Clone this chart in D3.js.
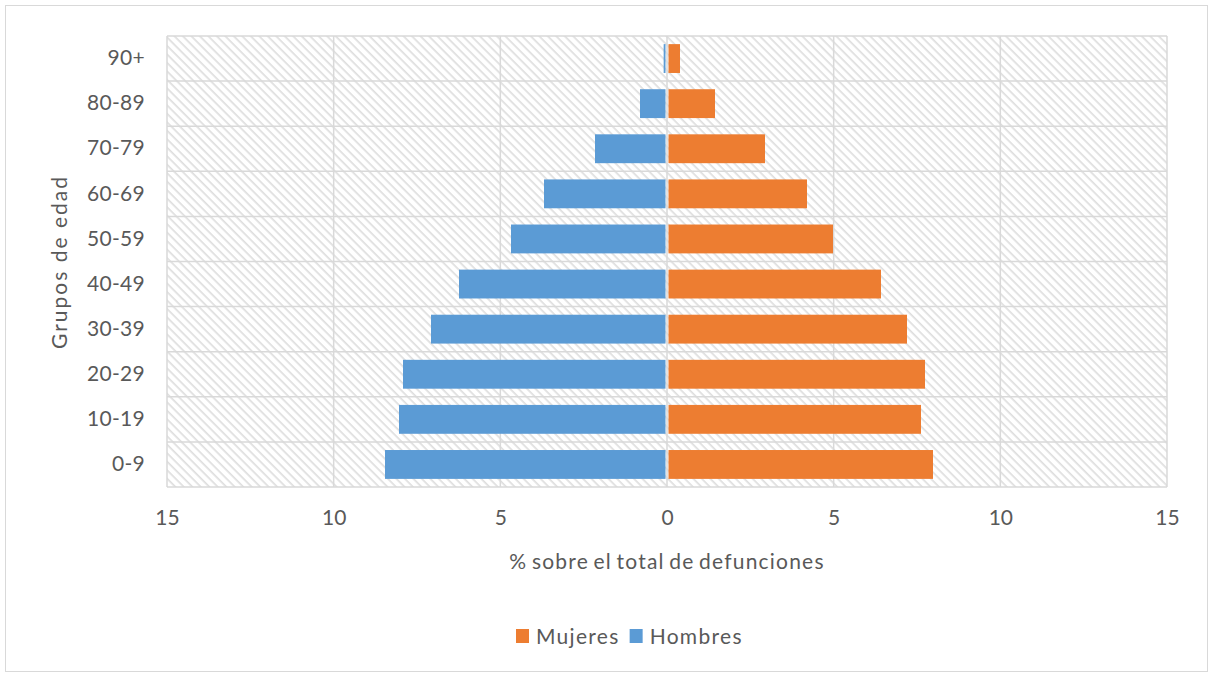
<!DOCTYPE html>
<html>
<head>
<meta charset="utf-8">
<script src="https://cdn.jsdelivr.net/npm/d3@7"></script>
<style>
  body { margin: 0; background: #fff; }
  svg text { font-family: Lato, Carlito, "Open Sans", sans-serif; fill: #595959; }
</style>
</head>
<body>
<div id="chart"></div>
<script>
const groups = ['0-9', '10-19', '20-29', '30-39', '40-49', '50-59', '60-69', '70-79', '80-89', '90+'];
const hombres = [8.46, 8.04, 7.92, 7.08, 6.24, 4.68, 3.69, 2.16, 0.81, 0.1];
const mujeres = [7.98, 7.62, 7.74, 7.2, 6.42, 4.98, 4.2, 2.94, 1.44, 0.39];
const xTicks = [-15, -10, -5, 0, 5, 10, 15];
const legendItems = [
  { label: 'Mujeres', color: '#ed7d31' },
  { label: 'Hombres', color: '#5b9bd5' },
];

const width = 1210;
const height = 677;
const margin = { top: 36, right: 43, bottom: 190, left: 167 };
const innerW = width - margin.left - margin.right;
const innerH = height - margin.top - margin.bottom;

const svg = d3
  .select('#chart')
  .append('svg')
  .attr('width', width)
  .attr('height', height);

// chart frame
svg
  .append('rect')
  .attr('x', 5.5)
  .attr('y', 5.5)
  .attr('width', 1202)
  .attr('height', 666)
  .attr('fill', '#fff')
  .attr('stroke', '#d9d9d9');

// diagonal hatch for the plot background
const defs = svg.append('defs');
const pat = defs
  .append('pattern')
  .attr('id', 'hatch')
  .attr('patternUnits', 'userSpaceOnUse')
  .attr('width', 6)
  .attr('height', 6)
  .attr('patternTransform', 'rotate(45)');
pat.append('rect').attr('width', 6).attr('height', 6).attr('fill', '#fff');
pat
  .append('line')
  .attr('x1', 0)
  .attr('y1', 0)
  .attr('x2', 6)
  .attr('y2', 0)
  .attr('stroke', '#dedede')
  .attr('stroke-width', 3.4);

const g = svg.append('g').attr('transform', `translate(${margin.left},${margin.top})`);

const x = d3.scaleLinear().domain([-15, 15]).range([0, innerW]);
const y = d3
  .scaleBand()
  .domain(groups.slice().reverse())
  .range([0, innerH])
  .paddingInner(0.36)
  .paddingOuter(0.18);

g.append('rect')
  .attr('width', innerW)
  .attr('height', innerH)
  .attr('fill', 'url(#hatch)');

// horizontal grid lines between categories
const rowEdges = d3.range(groups.length + 1).map((i) => i * (innerH / groups.length));
g.selectAll('.hgrid')
  .data(rowEdges)
  .enter()
  .append('line')
  .attr('x1', 0)
  .attr('x2', innerW)
  .attr('y1', (d) => d)
  .attr('y2', (d) => d)
  .attr('stroke', '#d9d9d9')
  .attr('stroke-width', 1.5);

// vertical grid lines
g.selectAll('.vgrid')
  .data(xTicks)
  .enter()
  .append('line')
  .attr('x1', (d) => x(d))
  .attr('x2', (d) => x(d))
  .attr('y1', 0)
  .attr('y2', innerH)
  .attr('stroke', '#d9d9d9')
  .attr('stroke-width', 1.5);

// bars
g.selectAll('.bar-h')
  .data(groups)
  .enter()
  .append('rect')
  .attr('x', (d, i) => x(-hombres[i]))
  .attr('y', (d) => y(d))
  .attr('width', (d, i) => x(0) - x(-hombres[i]) - 1.5)
  .attr('height', y.bandwidth())
  .attr('fill', '#5b9bd5');

g.selectAll('.bar-m')
  .data(groups)
  .enter()
  .append('rect')
  .attr('x', x(0) + 1.5)
  .attr('y', (d) => y(d))
  .attr('width', (d, i) => x(mujeres[i]) - x(0) - 1.5)
  .attr('height', y.bandwidth())
  .attr('fill', '#ed7d31');

// y labels
const yAxis = d3.axisLeft(y).tickSize(0).tickPadding(22);
g.append('g')
  .call(yAxis)
  .call((s) => s.select('.domain').remove())
  .selectAll('text')
  .style('font-size', '21px')
  .style('letter-spacing', '0.3px')
  .attr('fill', '#595959');

// x labels
const xAxis = d3
  .axisBottom(x)
  .tickValues(xTicks)
  .tickSize(0)
  .tickPadding(23)
  .tickFormat((d) => Math.abs(d));
g.append('g')
  .attr('transform', `translate(0,${innerH})`)
  .call(xAxis)
  .call((s) => s.select('.domain').remove())
  .selectAll('text')
  .style('font-size', '21px')
  .attr('fill', (d) => (d === -15 || d === -10 || d === -5 ? '#000' : '#595959'));

// axis titles
svg
  .append('text')
  .attr('x', margin.left + x(0))
  .attr('y', 569)
  .attr('text-anchor', 'middle')
  .style('font-size', '21px')
  .style('letter-spacing', '1.2px')
  .style('word-spacing', '-2px')
  .text('% sobre el total de defunciones');

svg
  .append('text')
  .attr('transform', `translate(67,${margin.top + 226}) rotate(-90)`)
  .attr('text-anchor', 'middle')
  .style('font-size', '21px')
  .style('letter-spacing', '2px')
  .text('Grupos de edad');

// legend
const legend = svg.append('g').attr('transform', 'translate(516,629)');
let lx = 0;
legendItems.forEach((item) => {
  legend
    .append('rect')
    .attr('x', lx)
    .attr('y', 0)
    .attr('width', 13)
    .attr('height', 14)
    .attr('fill', item.color);
  const t = legend
    .append('text')
    .attr('x', lx + 20)
    .attr('y', 15)
    .style('font-size', '21px')
    .style('letter-spacing', '1.3px')
    .text(item.label);
  lx += 20 + t.node().getComputedTextLength() + 10;
});
</script>
</body>
</html>
